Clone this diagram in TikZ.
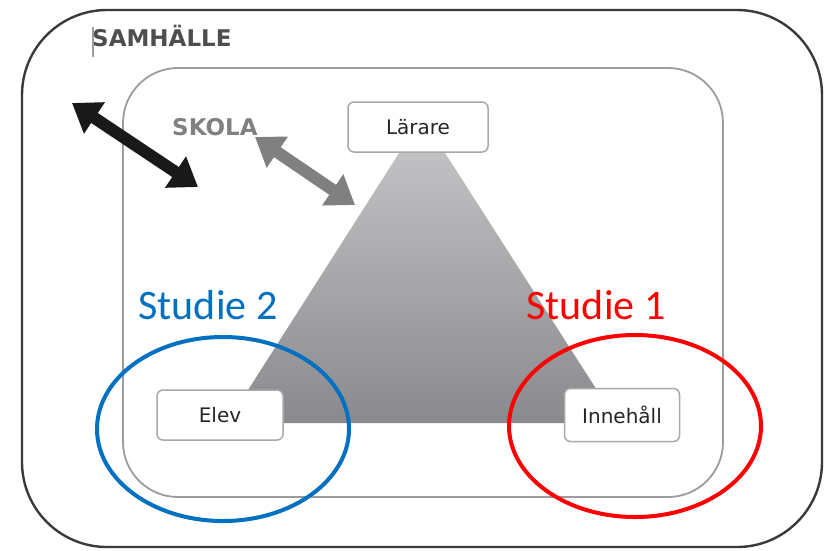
\documentclass[tikz,border=0pt]{standalone}
\usepackage{fontspec}
\setmainfont{Carlito}
\newfontfamily\boxfont{DejaVu Sans}
\usetikzlibrary{arrows.meta}

\definecolor{framegray}{HTML}{3A3A3A}
\definecolor{skolagray}{HTML}{9C9C9C}
\definecolor{boxgray}{HTML}{A8A8A8}
\definecolor{toptri}{HTML}{C8C8CA}
\definecolor{bottri}{HTML}{8A8A8E}
\definecolor{studieblue}{HTML}{0070C0}
\definecolor{studiered}{HTML}{FF0000}

\begin{document}
\begin{tikzpicture}[x=1pt,y=-1pt,
    rolebox/.style={draw=boxgray,line width=1.5pt,fill=white,rounded corners=6pt,
      minimum width=#1,minimum height=50pt,inner sep=0pt,font=\boxfont\fontsize{20}{20}\selectfont,text=black!85},
    bigarrow/.style={line width=12pt,{Triangle[width=36pt,length=27pt]}-{Triangle[width=36pt,length=27pt]}},
    headtext/.style={anchor=west,inner sep=0pt,font=\boxfont\bfseries\fontsize{23}{23}\selectfont},
    studietext/.style={font=\fontsize{42}{42}\selectfont,inner sep=0pt},
    studiering/.style={line width=4pt}]
  \useasboundingbox (0,0) rectangle (829,550);
  % samhalle and skola frames
  \draw[framegray,line width=2.4pt,rounded corners=85pt] (22,10) rectangle (822,547);
  \draw[skolagray,line width=1.8pt,rounded corners=55pt] (123,68) rectangle (723,497);
  % triangle
  \shade[top color=toptri,bottom color=bottri] (422,117) -- (227,423) -- (618,423) -- cycle;
  % three boxes
  \node[rolebox=140pt] (larare) at (418,127) {Lärare};
  \node[rolebox=126pt] (elev) at (220,415) {Elev};
  \node[rolebox=115pt,minimum height=53pt] (innehall) at (622,415) {Innehåll};
  % labels
  \node[headtext,text=framegray!90] (samhalle) at (92,36) {SAMHÄLLE};
  \draw[skolagray,line width=1.2pt] (93,27) -- (93,57);
  \node[headtext,text=gray] (skola) at (172,127) {SKOLA};
  % two arrows
  \coordinate (samA) at (72,103);
  \coordinate (samB) at (198,187);
  \coordinate (skoA) at (255,137);
  \coordinate (skoB) at (355,205);
  \draw[bigarrow,black!90] (samA) -- (samB);
  \draw[bigarrow,gray] (skoA) -- (skoB);
  % studies
  \node[studietext,text=studieblue] (studie2) at (208,305) {Studie 2};
  \node[studietext,text=studiered] (studie1) at (596,305) {Studie 1};
  \draw[studiering,studieblue] (223,429) ellipse [x radius=126pt,y radius=92pt];
  \draw[studiering,studiered] (635,426) ellipse [x radius=126pt,y radius=91pt];
\end{tikzpicture}
\end{document}
